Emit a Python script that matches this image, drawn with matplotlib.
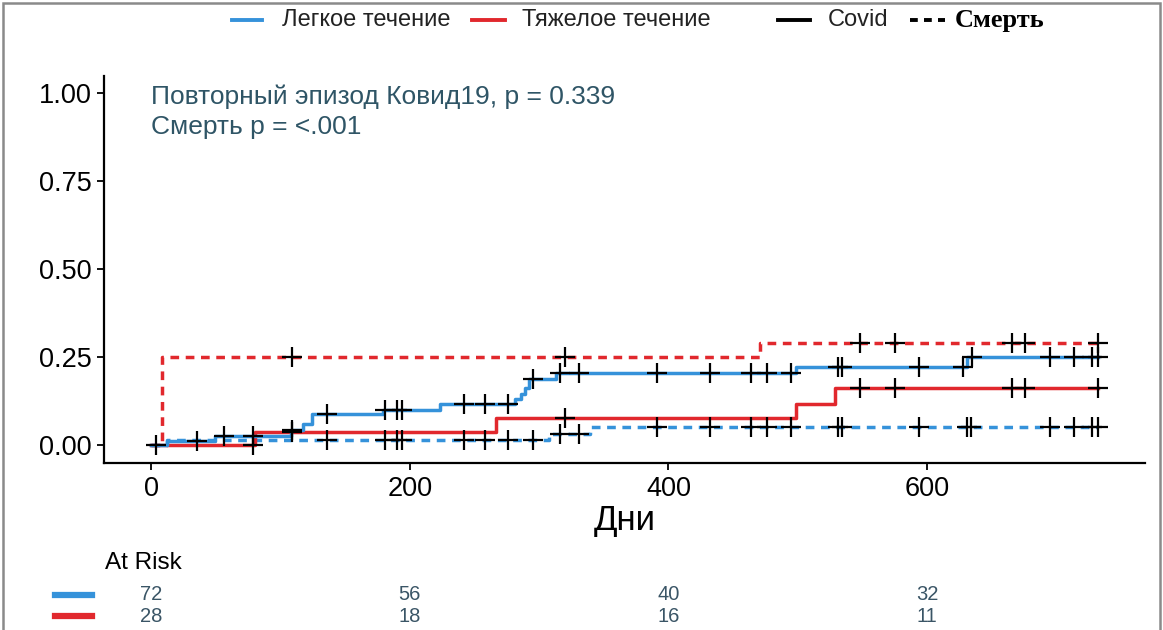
"""Cumulative incidence: repeat Covid19 episode and death, mild vs severe course."""
import numpy as np
import matplotlib
matplotlib.use("Agg")
import matplotlib.pyplot as plt
from matplotlib.lines import Line2D
from matplotlib.patches import Rectangle
from matplotlib.transforms import blended_transform_factory

plt.rcParams["font.family"] = ["Liberation Sans", "DejaVu Sans"]

BLUE = "#3592DA"
RED = "#E1282D"
NOTE = "#2F5566"

# step curves: event times (days) and cumulative incidence after each step
mild_covid_t = [0, 12, 49, 108, 117, 124, 179, 223, 281, 286, 289, 292, 313, 499, 631, 732]
mild_covid_p = [0, 0.014, 0.028, 0.043, 0.060, 0.088, 0.102, 0.117, 0.132, 0.147, 0.163,
                0.188, 0.205, 0.224, 0.250, 0.250]
mild_death_t = [0, 12, 308, 339, 732]
mild_death_p = [0, 0.015, 0.033, 0.051, 0.051]
severe_covid_t = [0, 80, 267, 499, 529, 732]
severe_covid_p = [0, 0.037, 0.077, 0.117, 0.163, 0.163]
severe_death_t = [0, 8, 471, 732]
severe_death_p = [0, 0.250, 0.292, 0.292]

# censoring times
mild_covid_cens = [35, 56, 79, 109, 136, 181, 190, 194, 242, 258, 276, 295, 316, 331, 391,
                   432, 464, 476, 495, 531, 534, 594, 628, 635, 695, 714, 728, 732]
mild_death_cens = [136, 181, 190, 194, 242, 258, 276, 295, 316, 331, 391, 432, 464, 476,
                   495, 531, 534, 594, 631, 634, 695, 714, 728, 732]
severe_covid_cens = [4, 79, 109, 320, 548, 575, 666, 676, 732]
severe_death_cens = [109, 320, 548, 575, 666, 676, 732]

risk_times = [0, 200, 400, 600]
risk_mild = [72, 56, 40, 32]
risk_severe = [28, 18, 16, 11]


def value_at(t, times, probs):
    idx = np.searchsorted(times, t, side="right") - 1
    return np.asarray(probs)[idx]


def curve(ax, times, probs, cens, color, dashed):
    ls = (0, (2.5, 1.9)) if dashed else "-"
    ax.step(times, probs, where="post", color=color, lw=2.5, ls=ls, zorder=2)
    ax.plot(cens, value_at(np.asarray(cens), times, probs), ls="none", marker="+",
            ms=15, mew=1.6, color="black", zorder=3)


fig = plt.figure(figsize=(11.63, 6.30), dpi=100)
ax = fig.add_axes([0.0894, 0.265, 0.8951, 0.615])

curve(ax, severe_death_t, severe_death_p, severe_death_cens, RED, True)
curve(ax, mild_death_t, mild_death_p, mild_death_cens, BLUE, True)
curve(ax, severe_covid_t, severe_covid_p, severe_covid_cens, RED, False)
curve(ax, mild_covid_t, mild_covid_p, mild_covid_cens, BLUE, False)

ax.set_xlim(-36.6, 768.6)
ax.set_ylim(-0.05, 1.05)
ax.set_xticks([0, 200, 400, 600])
ax.set_yticks([0, 0.25, 0.5, 0.75, 1.0])
ax.set_yticklabels(["0.00", "0.25", "0.50", "0.75", "1.00"])
for s in ("top", "right"):
    ax.spines[s].set_visible(False)
for s in ("left", "bottom"):
    ax.spines[s].set_linewidth(1.6)
ax.tick_params(labelsize=19.5, length=5, width=1.3, colors="black", pad=4)
ax.set_xlabel("Дни", fontsize=25, labelpad=2)

ax.text(0, 0.99, "Повторный эпизод Ковид19, p = 0.339", fontsize=19, color=NOTE,
        va="center", ha="left")
ax.text(0, 0.905, "Смерть p = <.001", fontsize=19, color=NOTE, va="center", ha="left")

# legend across the top
ly = 1 - 20 / 630
leg = [(232, 262, BLUE, "-", "Легкое течение", 282),
       (472, 505, RED, "-", "Тяжелое течение", 522),
       (778, 810, "black", "-", "Covid", 828),
       (910, 945, "black", (0, (2, 1.6)), "Смерть", 955)]
for x0, x1, c, ls, label, tx in leg:
    fig.add_artist(Line2D([x0 / 1163, x1 / 1163], [ly, ly], color=c, lw=2.8, ls=ls))
    if label == "Смерть":
        fig.text(tx / 1163, ly, label, fontsize=19, fontweight="bold",
                 family=["Liberation Serif", "DejaVu Serif"], va="center", ha="left")
    else:
        fig.text(tx / 1163, ly, label, fontsize=17, va="center", ha="left", color="#222222")

# at-risk table
tr = blended_transform_factory(ax.transData, fig.transFigure)
fig.text(105 / 1163, 1 - 563 / 630, "At Risk", fontsize=17.5, va="center", ha="left")
for row_y, col, counts in ((595, BLUE, risk_mild), (616, RED, risk_severe)):
    yy = 1 - row_y / 630
    fig.add_artist(Line2D([55 / 1163, 92 / 1163], [yy, yy], color=col, lw=4.5))
    for t, n in zip(risk_times, counts):
        ax.text(t, yy, str(n), transform=tr, fontsize=14.5, color="#3A5566",
                ha="center", va="center", clip_on=False)

# outer frame of the picture
fig.add_artist(Rectangle((0.003, -0.02), 0.994, 1.015, transform=fig.transFigure,
                         fill=False, edgecolor="#8A8A8A", lw=1.8))

fig.savefig("out.png", dpi=100)
